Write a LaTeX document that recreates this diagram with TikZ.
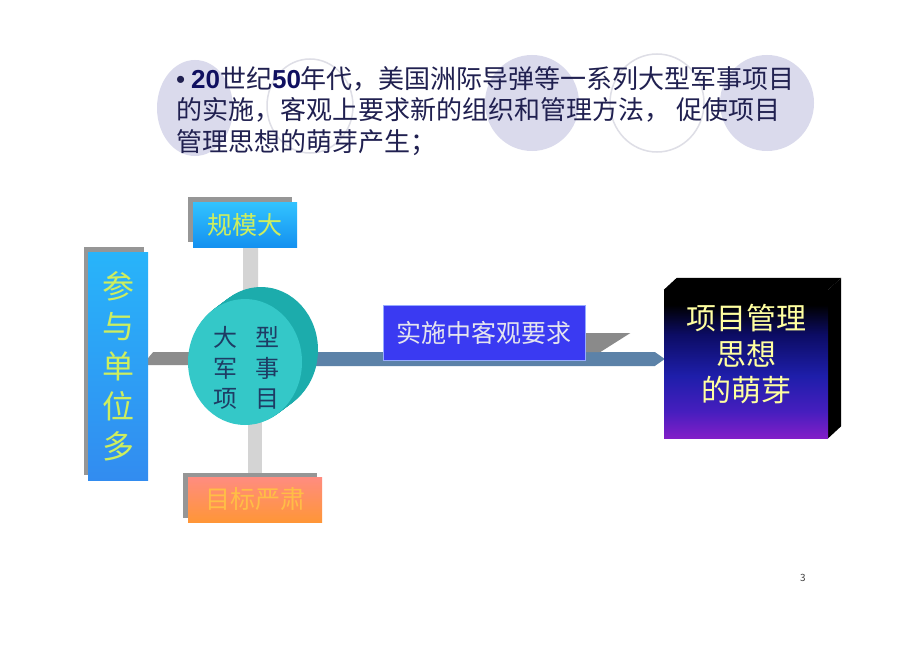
\documentclass[tikz,border=0pt]{standalone}
\usepackage{fontspec}
\setmainfont{Noto Sans CJK SC}
\newfontfamily\numfont{Liberation Sans}
\usetikzlibrary{calc,shapes.geometric}
\pgfdeclarelayer{bg}
\pgfdeclarelayer{mid}
\pgfsetlayers{bg,mid,main}
\definecolor{navytext}{RGB}{32,32,80}
\definecolor{numnavy}{RGB}{16,16,96}
\definecolor{lavfill}{RGB}{218,218,236}
\definecolor{lavline}{RGB}{222,222,230}
\definecolor{shadowgray}{RGB}{150,150,150}
\definecolor{barlight}{RGB}{212,212,212}
\definecolor{bardark}{RGB}{140,140,140}
\definecolor{steelbar}{RGB}{92,130,168}
\definecolor{wedgegray}{RGB}{138,138,138}
\definecolor{tealfront}{RGB}{52,200,200}
\definecolor{tealside}{RGB}{28,172,172}
\definecolor{disktext}{RGB}{30,60,100}
\definecolor{cyantop}{RGB}{50,195,255}
\definecolor{cyanbot}{RGB}{20,145,240}
\definecolor{unittop}{RGB}{40,180,250}
\definecolor{unitbot}{RGB}{50,140,240}
\definecolor{greentext}{RGB}{205,238,95}
\definecolor{goaltop}{RGB}{255,140,128}
\definecolor{goalbot}{RGB}{255,150,55}
\definecolor{goaltext}{RGB}{255,190,70}
\definecolor{reqfill}{RGB}{58,58,242}
\definecolor{reqline}{RGB}{150,170,255}
\definecolor{reqtext}{RGB}{228,228,238}
\definecolor{ideayellow}{RGB}{255,255,160}
\definecolor{ipurple}{RGB}{130,30,200}
\definecolor{iviolet}{RGB}{70,30,190}
\definecolor{iblue}{RGB}{30,30,170}
\definecolor{idark}{RGB}{12,12,100}
\pgfdeclareverticalshading{ideashade}{100bp}{color(0bp)=(ipurple); color(25bp)=(ipurple); color(34bp)=(iviolet); color(46bp)=(iblue); color(60bp)=(idark); color(70bp)=(black); color(100bp)=(black)}
\begin{document}
\begin{tikzpicture}[x=1pt,y=-1pt,
  every node/.style={inner sep=0pt},
  gmbox/.style={rectangle, minimum width=104pt, minimum height=45pt, top color=cyantop, bottom color=cyanbot, text=greentext, font=\fontsize{25}{30}\selectfont},
  unitbox/.style={rectangle, minimum width=60pt, minimum height=228pt, top color=unittop, bottom color=unitbot, text=greentext, align=center, font=\fontsize{32}{40}\selectfont},
  goalbox/.style={rectangle, minimum width=134pt, minimum height=45pt, top color=goaltop, bottom color=goalbot, text=goaltext, font=\fontsize{25}{30}\selectfont},
  reqbox/.style={rectangle, minimum width=202pt, minimum height=55pt, fill=reqfill, draw=reqline, line width=0.8pt, text=reqtext, font=\fontsize{25}{30}\selectfont},
  ideabox/.style={rectangle, minimum width=164pt, minimum height=148pt, shading=ideashade},
  ideatxt/.style={text=ideayellow, align=center, font=\fontsize{30}{36}\selectfont},
  diskfront/.style={ellipse, minimum width=114pt, minimum height=126pt, fill=tealfront},
  disktxt/.style={text=disktext, align=center, font=\fontsize{24}{30.5}\selectfont},
  shadowfill/.style={fill=shadowgray}
]
\useasboundingbox (0,0) rectangle (920,650);

% background and decorative circles
\begin{pgfonlayer}{bg}
\fill[white] (0,0) rectangle (920,650);
\fill[lavfill] (195,108) ellipse [x radius=38, y radius=48];
\draw[lavline, line width=1.5pt, fill=white] (310,106) ellipse [x radius=43, y radius=47];
\fill[lavfill] (532,103) ellipse [x radius=47, y radius=48];
\draw[lavline, line width=1.5pt, fill=white] (657,103) ellipse [x radius=47, y radius=49];
\fill[lavfill] (767,103) ellipse [x radius=47, y radius=48];
\end{pgfonlayer}

% intro text
\node[anchor=north west, align=left, text=navytext, font=\fontsize{26}{31.5}\selectfont] (intro) at (176,66)
 {{\numfont •} {\numfont\bfseries\color{numnavy}20}世纪{\numfont\bfseries\color{numnavy}50}年代，美国洲际导弹等一系列大型军事项目\\的实施，客观上要求新的组织和管理方法， 促使项目\\管理思想的萌芽产生；};

% nodes
\node[gmbox] (gm) at (245,224.5) {规模大};
\node[unitbox] (units) at (118,366) {参\\与\\单\\位\\多};
\node[goalbox] (goal) at (255,499.5) {目标严肃};
\node[diskfront] (circ) at (245,362) {};
\node[disktxt] (circt) at (246,368) {大\hspace{18pt}型\\军\hspace{18pt}事\\项\hspace{18pt}目};
\node[reqbox] (req) at (484,332.5) {实施中客观要求};
\node[ideabox] (idea) at (746,364) {};
\node[ideatxt] (ideat) at (746,354) {项目管理\\思想\\的萌芽};
\node[text=black!75, font=\fontsize{10}{12}\selectfont] (pg) at (803,578) {3};

% shadows, extrusions
\begin{pgfonlayer}{mid}
\fill[shadowfill] ($(gm.north west)+(-5,-5)$) rectangle ($(gm.south east)+(-5,-5)$);
\fill[shadowfill] ($(units.north west)+(-4,-5)$) rectangle ($(units.south east)+(-4,-5)$);
\fill[shadowfill] ($(goal.north west)+(-5,-4)$) rectangle ($(goal.south east)+(-5,-4)$);
\foreach \t in {1,...,16} {
  \fill[tealside] ($(circ.center)+(\t,-0.75*\t)$) ellipse [x radius=57, y radius=63];
}
\fill[wedgegray] ($(req.east)+(0,0.5)$) -- ($(req.east)+(45,0.5)$) -- ($(req.east)+(15,19.5)$) -- ($(req.east)+(0,19.5)$) -- cycle;
\fill[black] (idea.north west) -- ($(idea.north west)+(13,-12)$) -- ($(idea.north east)+(13,-12)$) -- (idea.north east) -- cycle;
\fill[black] (idea.north east) -- ($(idea.north east)+(13,-12)$) -- ($(idea.south east)+(13,-12)$) -- (idea.south east) -- cycle;
\end{pgfonlayer}

% connectors
\begin{pgfonlayer}{bg}
\fill[barlight] ($(gm.south)+(-2,0)$) -- ($(gm.south)+(13,0)$) -- ($(circ.north)+(13,-7)$) -- ($(circ.north)+(-2,3)$) -- cycle;
\fill[barlight] ($(circ.south)+(3,-10)$) rectangle ($(goal.north)+(7,0)$);
\fill[bardark] ($(units.east)+(5,-14)$) -- ($(circ.west)+(10,-10)$) -- ($(circ.west)+(10,3)$) -- ($(units.east)+(-6,-1)$) -- cycle;
\fill[steelbar] ($(circ.east)+(10,-10)$) -- ($(idea.west)+(-9,-12)$) -- ($(idea.west)+(1,-5)$) -- ($(idea.west)+(-9,2)$) -- ($(circ.east)+(10,4)$) -- cycle;
\end{pgfonlayer}
\end{tikzpicture}
\end{document}
